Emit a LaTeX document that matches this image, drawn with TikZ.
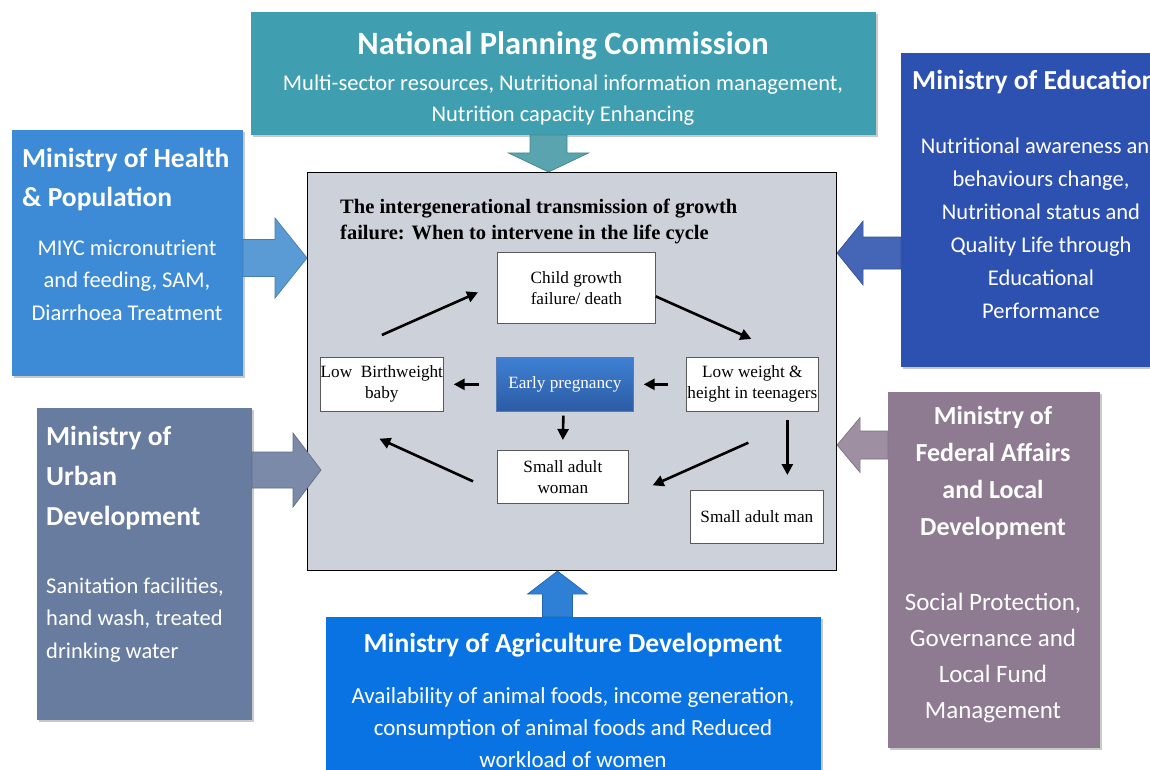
\documentclass[tikz,border=0pt]{standalone}
\usepackage{fontspec}
\setmainfont{Carlito}
\newfontfamily\cyclefont{Liberation Serif}
\usetikzlibrary{arrows.meta,calc,shadows}

\definecolor{PlanTeal}{HTML}{3F9FB0}
\definecolor{PlanArrow}{HTML}{5AA4AF}
\definecolor{HealthBlue}{HTML}{3D8BD6}
\definecolor{HealthArrow}{HTML}{5B9BD5}
\definecolor{EduBlue}{HTML}{2D51B0}
\definecolor{EduArrow}{HTML}{4565B6}
\definecolor{UrbanSlate}{HTML}{677C9E}
\definecolor{UrbanArrow}{HTML}{7A8AA8}
\definecolor{FedMauve}{HTML}{8E7B92}
\definecolor{FedArrow}{HTML}{9E8FA3}
\definecolor{AgriBlue}{HTML}{0A73E3}
\definecolor{AgriArrow}{HTML}{2E80D6}
\definecolor{CycleGrey}{HTML}{CDD2DA}
\definecolor{PregTop}{HTML}{3F80D3}
\definecolor{PregBottom}{HTML}{2C5BA4}

\tikzset{
  ministry/.style={inner sep=0pt, outer sep=0pt, anchor=north west,
    drop shadow={shadow xshift=2pt, shadow yshift=-2pt, opacity=0.3, fill=black!70}},
  head/.style={text=white, inner sep=0pt, font=\bfseries\fontsize{27.5}{40}\selectfont},
  body/.style={text=white, inner sep=0pt, font=\fontsize{22.5}{33}\selectfont},
  stage/.style={draw=black!65, line width=0.7pt, fill=white, inner sep=0pt,
    anchor=north west, align=center, font=\cyclefont\fontsize{17.2}{21}\selectfont},
  flow/.style={line width=2.6pt, -{Triangle[length=11pt,width=11pt]}},
  fat/.style={line width=0.7pt}
}

% block arrow: style, from, to, half shaft, half head, head length
\newcommand{\blockarrow}[6]{%
  \coordinate (ba-neck) at ($(#3)!#6!(#2)$);
  \draw[fat,#1] ($(#2)!#4!90:(#3)$) -- ($(ba-neck)!#4!90:(#3)$)
    -- ($(ba-neck)!#5!90:(#3)$) -- (#3) -- ($(ba-neck)!#5!-90:(#3)$)
    -- ($(ba-neck)!#4!-90:(#3)$) -- ($(#2)!#4!-90:(#3)$) -- cycle;}

\begin{document}
\begin{tikzpicture}[x=1pt, y=-1pt]
  \useasboundingbox (0,0) rectangle (1150,770);
  \clip (0,0) rectangle (1150,770);

  % ministries round the cycle (text placed by the baseline of its last line)
  \node[ministry, fill=PlanTeal, minimum width=625pt, minimum height=123pt] (npc) at (251,12) {};
  \node[ministry, fill=HealthBlue, minimum width=231pt, minimum height=246pt] (health) at (12,130) {};
  \node[ministry, fill=EduBlue, minimum width=270pt, minimum height=314pt] (edu) at (901,53) {};
  \node[ministry, fill=UrbanSlate, minimum width=215pt, minimum height=312pt] (urban) at (37,408) {};
  \node[ministry, fill=FedMauve, minimum width=212pt, minimum height=356pt] (federal) at (888,392) {};
  \node[ministry, fill=AgriBlue, minimum width=495pt, minimum height=180pt] (agri) at (326,617) {};

  \node[head, font=\bfseries\fontsize{32.5}{40}\selectfont, anchor=base] at (563,55) {National Planning Commission};
  \node[body, font=\fontsize{22.5}{31}\selectfont, anchor=base, align=center] at (563,122)
    {Multi-sector resources, Nutritional information management,\\Nutrition capacity Enhancing};

  \node[head, font=\bfseries\fontsize{27.5}{39}\selectfont, anchor=base west, align=left] at (22,206)
    {Ministry of Health\\\& Population};
  \node[body, font=\fontsize{22.5}{32.5}\selectfont, anchor=base, align=center] at (127,320)
    {MIYC micronutrient\\and feeding, SAM,\\Diarrhoea Treatment};

  \node[head, anchor=base west] at (912,90) {Ministry of Education};
  \node[body, anchor=base, align=center] at (1041,318)
    {Nutritional awareness and\\behaviours change,\\Nutritional status and\\Quality Life through\\Educational\\Performance};

  \node[head, anchor=base west, align=left] at (46,525) {Ministry of\\Urban\\Development};
  \node[body, font=\fontsize{22.5}{32.5}\selectfont, anchor=base west, align=left] at (46,658)
    {Sanitation facilities,\\hand wash, treated\\drinking water};

  \node[head, font=\bfseries\fontsize{26}{36.7}\selectfont, anchor=base, align=center] at (993,535)
    {Ministry of\\Federal Affairs\\and Local\\Development};
  \node[body, font=\fontsize{25}{36}\selectfont, anchor=base, align=center] at (993,718)
    {Social Protection,\\Governance and\\Local Fund\\Management};

  \node[head, anchor=base] at (573,652) {Ministry of Agriculture Development};
  \node[body, font=\fontsize{23}{32}\selectfont, anchor=base, align=center] at (573,767)
    {Availability of animal foods, income generation,\\consumption of animal foods and Reduced\\workload of women};

  % life cycle panel
  \node[draw=black, line width=1.1pt, fill=CycleGrey, inner sep=0pt, anchor=north west,
        minimum width=529pt, minimum height=398pt] (cycle) at (307,172) {};
  \node[anchor=base west, align=left, inner sep=0pt,
        font=\cyclefont\bfseries\fontsize{20.5}{26}\selectfont] at (340,239)
    {The intergenerational transmission of growth\\failure: When to intervene in the life cycle};

  \node[stage, minimum width=158pt, minimum height=71pt] (child) at (497,252) {Child growth\\failure/ death};
  \node[stage, minimum width=123pt, minimum height=54pt] (lbw) at (320,357) {Low~ Birthweight\\baby};
  \node[stage, draw=PregBottom!80, top color=PregTop, bottom color=PregBottom, text=white,
        minimum width=137pt, minimum height=54pt] (early) at (496,357) {Early pregnancy};
  \node[stage, minimum width=132pt, minimum height=54pt] (teen) at (686,357) {Low weight \&\\height in teenagers};
  \node[stage, minimum width=131pt, minimum height=53pt] (woman) at (497,450) {Small adult\\woman};
  \node[stage, minimum width=133pt, minimum height=53pt] (man) at (690,490) {Small adult man};

  \draw[flow] ([yshift=22pt]lbw.north) -- ([xshift=-19pt,yshift=-4.5pt]child.west);
  \draw[flow] ([yshift=-8.5pt]child.east) -- ([xshift=-1pt,yshift=18pt]teen.north);
  \draw[flow] ([xshift=-18pt]teen.west) -- ([xshift=10pt]early.east);
  \draw[flow] ([xshift=-17pt]early.west) -- ([xshift=10pt]lbw.east);
  \draw[flow] ([xshift=-1.5pt,yshift=-4pt]early.south) -- ([yshift=10pt]woman.north);
  \draw[flow] ([xshift=-4pt,yshift=-31pt]teen.south) -- ([xshift=24pt,yshift=-8.5pt]woman.east);
  \draw[flow] ([xshift=35pt,yshift=-8pt]teen.south) -- ([xshift=30.5pt,yshift=15pt]man.north);
  \draw[flow] ([xshift=-24pt,yshift=-4.5pt]woman.west) -- ([xshift=-2.5pt,yshift=-27pt]lbw.south);

  % block arrows into the panel
  \coordinate (n0) at ([xshift=-15pt]npc.south);
  \coordinate (n1) at (n0 |- cycle.north);
  \blockarrow{fill=PlanArrow, draw=PlanArrow!80!black}{n0}{n1}{18.5pt}{40pt}{19pt}
  \coordinate (h0) at ([yshift=-5pt]health.east);
  \coordinate (h1) at (cycle.west |- h0);
  \blockarrow{fill=HealthArrow, draw=HealthArrow!80!black}{h0}{h1}{18.5pt}{40pt}{32pt}
  \coordinate (e0) at ([yshift=-43pt]edu.west);
  \coordinate (e1) at (cycle.east |- e0);
  \blockarrow{fill=EduArrow, draw=EduArrow!80!black}{e0}{e1}{16pt}{32pt}{26pt}
  \coordinate (u0) at ([yshift=94pt]urban.east);
  \coordinate (u1) at ([xshift=14pt]cycle.west |- u0);
  \blockarrow{fill=UrbanArrow, draw=UrbanArrow!80!black}{u0}{u1}{18pt}{37pt}{28pt}
  \coordinate (f0) at ([yshift=125pt]federal.west);
  \coordinate (f1) at (cycle.east |- f0);
  \blockarrow{fill=FedArrow, draw=FedArrow!80!black}{f0}{f1}{14pt}{27.5pt}{23pt}
  \coordinate (a0) at ([xshift=-16pt]agri.north);
  \coordinate (a1) at (a0 |- cycle.south);
  \blockarrow{fill=AgriArrow, draw=AgriArrow!80!black}{a0}{a1}{15pt}{30pt}{23pt}
\end{tikzpicture}
\end{document}
